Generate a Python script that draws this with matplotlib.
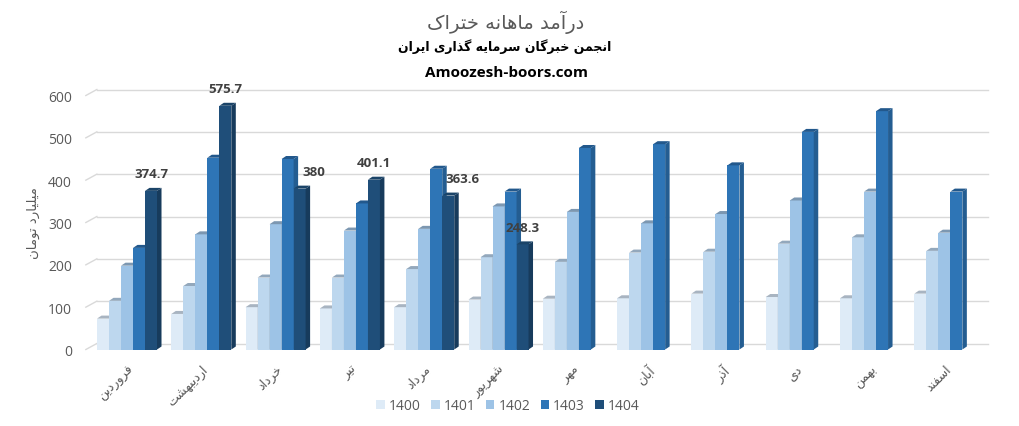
"""Monthly revenue of Khtrak - 3D-style clustered columns"""
import matplotlib
matplotlib.use("Agg")
import matplotlib.pyplot as plt
from matplotlib.patches import Polygon

months = ['فروردین', 'اردیبهشت', 'خرداد', 'تیر', 'مرداد', 'شهریور',
          'مهر', 'آبان', 'آذر', 'دی', 'بهمن', 'اسفند']
years = ['1400', '1401', '1402', '1403', '1404']
y1400 = [73, 84, 100, 97, 100, 118, 120, 121, 132, 124, 121, 132]
y1401 = [115, 150, 170, 170, 190, 218, 207, 229, 231, 250, 265, 233]
y1402 = [198, 272, 296, 281, 285, 338, 325, 298, 320, 352, 373, 276]
y1403 = [240, 453, 450, 345, 427, 373, 476, 485, 435, 514, 563, 373]
y1404 = [374.7, 575.7, 380, 401.1, 363.6, 248.3]

title = 'درآمد ماهانه ختراک'
subtitle = 'انجمن خبرگان سرمایه گذاری ایران'
site = 'Amoozesh-boors.com'
ylabel = 'میلیارد تومان'

front = ['#DEEBF7', '#BDD7EE', '#9DC3E6', '#2E75B6', '#1F4E79']
side = ['#B7C4D1', '#9AB1C6', '#7F9DB9', '#245D91', '#173B5C']
top = ['#A8B4C1', '#93A8BC', '#7C97B1', '#22588C', '#1B4468']

# isolated, final, initial, medial presentation forms
FORMS = {
    'ا': ('\uFE8D', '\uFE8E'), 'آ': ('\uFE81', '\uFE82'),
    'د': ('\uFEA9', '\uFEAA'), 'ذ': ('\uFEAB', '\uFEAC'),
    'ر': ('\uFEAD', '\uFEAE'), 'و': ('\uFEED', '\uFEEE'),
    'ب': ('\uFE8F', '\uFE90', '\uFE91', '\uFE92'),
    'ت': ('\uFE95', '\uFE96', '\uFE97', '\uFE98'),
    'ج': ('\uFE9D', '\uFE9E', '\uFE9F', '\uFEA0'),
    'خ': ('\uFEA5', '\uFEA6', '\uFEA7', '\uFEA8'),
    'س': ('\uFEB1', '\uFEB2', '\uFEB3', '\uFEB4'),
    'ش': ('\uFEB5', '\uFEB6', '\uFEB7', '\uFEB8'),
    'ف': ('\uFED1', '\uFED2', '\uFED3', '\uFED4'),
    'ک': ('\uFB8E', '\uFB8F', '\uFB90', '\uFB91'),
    'گ': ('\uFB92', '\uFB93', '\uFB94', '\uFB95'),
    'ل': ('\uFEDD', '\uFEDE', '\uFEDF', '\uFEE0'),
    'م': ('\uFEE1', '\uFEE2', '\uFEE3', '\uFEE4'),
    'ن': ('\uFEE5', '\uFEE6', '\uFEE7', '\uFEE8'),
    'ه': ('\uFEE9', '\uFEEA', '\uFEEB', '\uFEEC'),
    'ی': ('\uFBFC', '\uFBFD', '\uFBFE', '\uFBFF'),
}


def fa(text):
    """Shape Persian letters and reverse for left-to-right drawing"""
    out = []
    for i, c in enumerate(text):
        f = FORMS.get(c)
        if f is None:
            out.append(c)
            continue
        prev = text[i - 1] if i > 0 else ''
        nxt = text[i + 1] if i + 1 < len(text) else ''
        jp = prev in FORMS and len(FORMS[prev]) == 4
        jn = len(f) == 4 and nxt in FORMS
        if jp and jn:
            out.append(f[3])
        elif jp:
            out.append(f[1])
        elif jn:
            out.append(f[2])
        else:
            out.append(f[0])
    return ''.join(reversed(out))


plt.rcParams['font.family'] = ['Open Sans', 'DejaVu Sans']
GRAY = '#595959'

W, H = 1020, 427
ax_l, ax_r, ax_base, ax_top = 89.85, 981.5, 350.5, 96.5
fig = plt.figure(figsize=(W / 100, H / 100), dpi=100)
ax = fig.add_axes([ax_l / W, (H - ax_base) / H,
                   (ax_r - ax_l) / W, (ax_base - ax_top) / H])
ax.set_xlim(-0.5, 11.5)
ax.set_ylim(0, 600)
ppx = (ax_r - ax_l) / 12
ppy = (ax_base - ax_top) / 600

bw = 12 / ppx
dx, dy = 4.5 / ppx, 3 / ppy
gx, gy = 7 / ppx, 6 / ppy

# back wall gridlines with small floor diagonals
for v in range(0, 601, 100):
    ax.plot([-0.5 + gx, 11.5 + gx], [v + gy, v + gy], color='#D9D9D9',
            lw=1, zorder=0, clip_on=False)
    ax.plot([-0.5 - 4 / ppx, -0.5 + gx], [v, v + gy], color='#D9D9D9',
            lw=1, zorder=0, clip_on=False)

series = [y1400, y1401, y1402, y1403, y1404]
for k, vals in enumerate(series):
    xs = [i + (k - 2) * bw for i in range(len(vals))]
    z = 3 + k
    ax.bar(xs, vals, width=bw, color=front[k], zorder=z, label=years[k])
    for x, v in zip(xs, vals):
        xl, xr = x - bw / 2, x + bw / 2
        ax.add_patch(Polygon([(xr, 0), (xr + dx, dy), (xr + dx, v + dy), (xr, v)],
                             closed=True, color=side[k], lw=0, zorder=z))
        ax.add_patch(Polygon([(xl, v), (xl + dx, v + dy), (xr + dx, v + dy), (xr, v)],
                             closed=True, color=top[k], lw=0, zorder=z))

label_dx = [0, 0, 14, 0, 14, 0]
for i, v in enumerate(y1404):
    ax.annotate(f'{v:g}', (i + 2 * bw, v), xytext=(label_dx[i], 17),
                textcoords='offset pixels', ha='center', va='center',
                fontsize=9.5, fontweight='bold', color='#404040', zorder=20)

for s in ax.spines.values():
    s.set_visible(False)
ax.set_yticks(range(0, 601, 100))
ax.tick_params(axis='y', length=0, pad=13, labelsize=10, labelcolor=GRAY)
ax.set_xticks(range(12))
ax.set_xticklabels([fa(m) for m in months], rotation=45, ha='right',
                   va='top', rotation_mode='anchor', fontsize=9,
                   color=GRAY, family='DejaVu Sans')
ax.tick_params(axis='x', length=0, pad=9)

fig.text(33 / W, 1 - 223 / H, fa(ylabel), rotation=90, ha='center',
         va='center', fontsize=9.5, color=GRAY, family='DejaVu Sans')
fig.text(506 / W, 1 - 22 / H, fa(title), ha='center', va='center',
         fontsize=14, color=GRAY, family='DejaVu Sans')
fig.text(505 / W, 1 - 47 / H, fa(subtitle), ha='center', va='center',
         fontsize=9, fontweight='bold', color='black', family='DejaVu Sans')
fig.text(507 / W, 1 - 73 / H, site, ha='center', va='center',
         fontsize=11, fontweight='bold', color='black')

fig.legend(loc='center', bbox_to_anchor=(508 / W, 20 / H), ncol=5,
           frameon=False, handlelength=0.6, handleheight=0.6,
           handletextpad=0.3, columnspacing=0.75, fontsize=10,
           labelcolor=GRAY)

fig.savefig('out.png', dpi=100)
